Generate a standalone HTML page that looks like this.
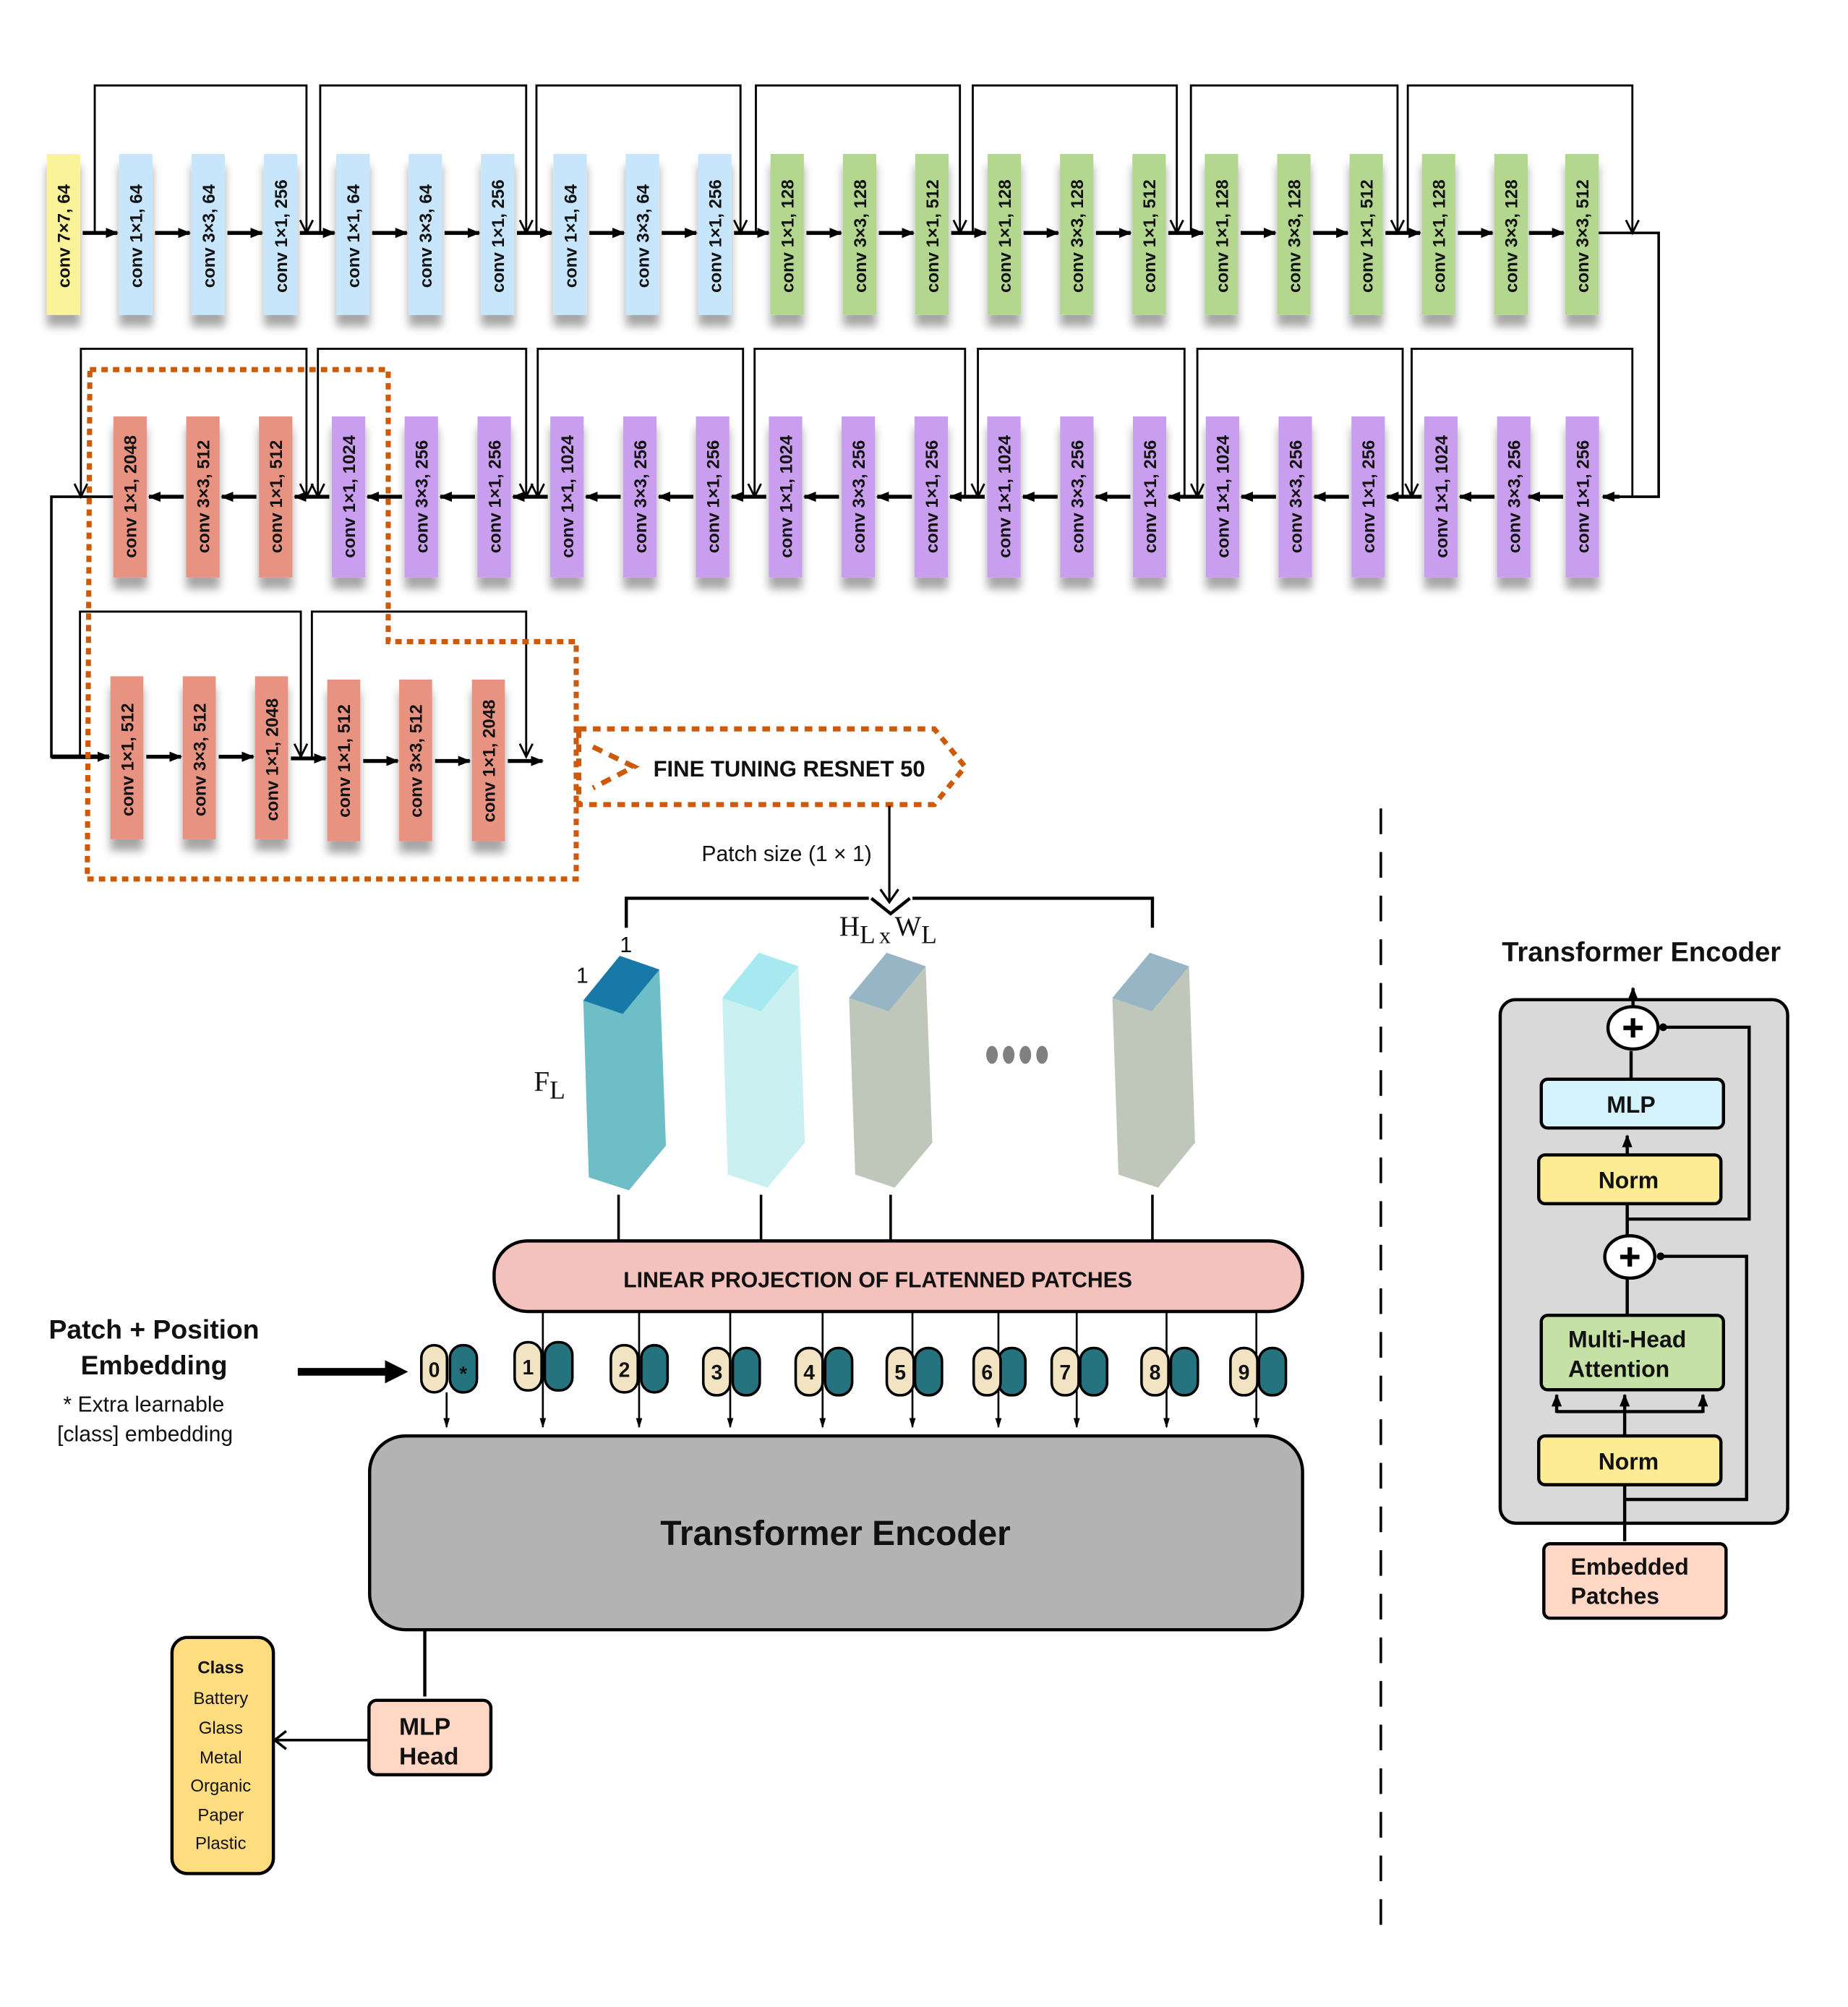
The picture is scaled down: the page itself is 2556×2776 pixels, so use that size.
<!DOCTYPE html>
<html><head><meta charset="utf-8"><style>
html,body{margin:0;padding:0;background:#fff;}
svg{display:block;}
text{font-family:"Liberation Sans",Arial,sans-serif;}
.cl{font-weight:bold;font-size:13.5px;fill:#111;}
.sf{font-family:"Liberation Serif","DejaVu Serif",serif;}
</style></head><body>
<svg xmlns="http://www.w3.org/2000/svg" xmlns:xlink="http://www.w3.org/1999/xlink" width="2556" height="2776" viewBox="0 0 1440 1564">
<defs>
<filter id="sh" x="-50%" y="-20%" width="200%" height="150%"><feDropShadow dx="0" dy="9" stdDeviation="3.5" flood-color="#000" flood-opacity="0.35"/></filter>
<marker id="fa" markerWidth="10" markerHeight="10" refX="9" refY="5" orient="auto" markerUnits="userSpaceOnUse"><path d="M0,1 L10,5 L0,9 z" fill="#000"/></marker>
<marker id="fs" markerWidth="8" markerHeight="14" refX="7" refY="4" orient="auto" markerUnits="userSpaceOnUse"><path d="M0,1.5 L8,4 L0,6.5 z" fill="#000"/></marker>
<g id="ar"><path d="M0 0H27" stroke="#000" stroke-width="3" marker-end="url(#fa)"/></g>
<g id="al"><path d="M0 0H-27" stroke="#000" stroke-width="3" marker-end="url(#fa)"/></g>
</defs>

<!-- ROW 1 -->
<g fill="none" stroke="#000" stroke-width="1.6">
<path d="M73.8 181.5V66.6H238.8V181.5"/><path d="M233.8 171.5L238.8 181.5L243.8 171.5"/>
<path d="M249.5 181.5V66.6H410V181.5"/><path d="M405 171.5L410 181.5L415 171.5"/>
<path d="M418 181.5V66.6H577V181.5"/><path d="M572 171.5L577 181.5L582 171.5"/>
<path d="M589 181.5V66.6H748V181.5"/><path d="M743 171.5L748 181.5L753 171.5"/>
<path d="M758 181.5V66.6H917V181.5"/><path d="M912 171.5L917 181.5L922 171.5"/>
<path d="M928 181.5V66.6H1089V181.5"/><path d="M1084 171.5L1089 181.5L1094 171.5"/>
<path d="M1097 181.5V66.6H1272V181.5"/><path d="M1267 171.5L1272 181.5L1277 171.5"/>
<path d="M1245.6 181.5H1292.5V387.1H1250" stroke-width="2"/>
</g>
<path d="M1262 387.1H1249" stroke="#000" stroke-width="3" marker-end="url(#fa)"/>
<g filter="url(#sh)">
<rect x="36.4" y="120" width="26" height="125.4" fill="#FBF39A"/>
<g fill="#C7E5FB">
<rect x="92.8" y="120" width="26" height="125.4"/><rect x="149.2" y="120" width="26" height="125.4"/><rect x="205.6" y="120" width="26" height="125.4"/>
<rect x="262" y="120" width="26" height="125.4"/><rect x="318.4" y="120" width="26" height="125.4"/><rect x="374.8" y="120" width="26" height="125.4"/>
<rect x="431.2" y="120" width="26" height="125.4"/><rect x="487.6" y="120" width="26" height="125.4"/><rect x="544" y="120" width="26" height="125.4"/>
</g>
<g fill="#B3D78F">
<rect x="600.4" y="120" width="26" height="125.4"/><rect x="656.8" y="120" width="26" height="125.4"/><rect x="713.2" y="120" width="26" height="125.4"/>
<rect x="769.6" y="120" width="26" height="125.4"/><rect x="826" y="120" width="26" height="125.4"/><rect x="882.4" y="120" width="26" height="125.4"/>
<rect x="938.8" y="120" width="26" height="125.4"/><rect x="995.2" y="120" width="26" height="125.4"/><rect x="1051.6" y="120" width="26" height="125.4"/>
<rect x="1108" y="120" width="26" height="125.4"/><rect x="1164.4" y="120" width="26" height="125.4"/><rect x="1219.7" y="120" width="26" height="125.4"/>
</g>
</g>
<g class="cl" text-anchor="middle">
<text transform="translate(54.4,184) rotate(-90)">conv 7×7, 64</text>
<text transform="translate(110.8,184) rotate(-90)">conv 1×1, 64</text>
<text transform="translate(167.2,184) rotate(-90)">conv 3×3, 64</text>
<text transform="translate(223.6,184) rotate(-90)">conv 1×1, 256</text>
<text transform="translate(280,184) rotate(-90)">conv 1×1, 64</text>
<text transform="translate(336.4,184) rotate(-90)">conv 3×3, 64</text>
<text transform="translate(392.8,184) rotate(-90)">conv 1×1, 256</text>
<text transform="translate(449.2,184) rotate(-90)">conv 1×1, 64</text>
<text transform="translate(505.6,184) rotate(-90)">conv 3×3, 64</text>
<text transform="translate(562,184) rotate(-90)">conv 1×1, 256</text>
<text transform="translate(618.4,184) rotate(-90)">conv 1×1, 128</text>
<text transform="translate(674.8,184) rotate(-90)">conv 3×3, 128</text>
<text transform="translate(731.2,184) rotate(-90)">conv 1×1, 512</text>
<text transform="translate(787.6,184) rotate(-90)">conv 1×1, 128</text>
<text transform="translate(844,184) rotate(-90)">conv 3×3, 128</text>
<text transform="translate(900.4,184) rotate(-90)">conv 1×1, 512</text>
<text transform="translate(956.8,184) rotate(-90)">conv 1×1, 128</text>
<text transform="translate(1013.2,184) rotate(-90)">conv 3×3, 128</text>
<text transform="translate(1069.6,184) rotate(-90)">conv 1×1, 512</text>
<text transform="translate(1126,184) rotate(-90)">conv 1×1, 128</text>
<text transform="translate(1182.4,184) rotate(-90)">conv 3×3, 128</text>
<text transform="translate(1237.7,184) rotate(-90)">conv 3×3, 512</text>
</g>
<g>
<use xlink:href="#ar" x="64.4" y="181.5"/><use xlink:href="#ar" x="120.8" y="181.5"/><use xlink:href="#ar" x="177.2" y="181.5"/><use xlink:href="#ar" x="233.6" y="181.5"/>
<use xlink:href="#ar" x="290" y="181.5"/><use xlink:href="#ar" x="346.4" y="181.5"/><use xlink:href="#ar" x="402.8" y="181.5"/><use xlink:href="#ar" x="459.2" y="181.5"/>
<use xlink:href="#ar" x="515.6" y="181.5"/><use xlink:href="#ar" x="572" y="181.5"/><use xlink:href="#ar" x="628.4" y="181.5"/><use xlink:href="#ar" x="684.8" y="181.5"/>
<use xlink:href="#ar" x="741.2" y="181.5"/><use xlink:href="#ar" x="797.6" y="181.5"/><use xlink:href="#ar" x="854" y="181.5"/><use xlink:href="#ar" x="910.4" y="181.5"/>
<use xlink:href="#ar" x="966.8" y="181.5"/><use xlink:href="#ar" x="1023.2" y="181.5"/><use xlink:href="#ar" x="1079.6" y="181.5"/><use xlink:href="#ar" x="1136" y="181.5"/>
<use xlink:href="#ar" x="1191.4" y="181.5"/>
</g>

<!-- ROW 2 -->
<g fill="none" stroke="#000" stroke-width="1.6">
<path d="M63 387.1V271.8H238.8V387.1"/><path d="M58 377L63 387.1L68 377"/><path d="M233.8 377L238.8 387.1L243.8 377"/>
<path d="M247.7 387.1V271.8H410V387.1"/><path d="M242.7 377L247.7 387.1L252.7 377"/><path d="M405 377L410 387.1L415 377"/>
<path d="M419 387.1V271.8H579V387.1"/><path d="M414 377L419 387.1L424 377"/>
<path d="M588 387.1V271.8H752V387.1"/><path d="M583 377L588 387.1L593 377"/>
<path d="M762 387.1V271.8H923V387.1"/><path d="M757 377L762 387.1L767 377"/>
<path d="M933 387.1V271.8H1093V387.1"/><path d="M928 377L933 387.1L938 377"/>
<path d="M1100 387.1V271.8H1272V387.1"/><path d="M1095 377L1100 387.1L1105 377"/>
<path d="M88 387.1H40V589.7H70" stroke-width="2"/>
</g>
<g filter="url(#sh)">
<g fill="#E89282">
<rect x="88.3" y="324.5" width="26" height="125.5"/><rect x="145.1" y="324.5" width="26" height="125.5"/><rect x="201.8" y="324.5" width="26" height="125.5"/>
</g>
<g fill="#C99EEE">
<rect x="258.6" y="324.5" width="26" height="125.5"/><rect x="315.3" y="324.5" width="26" height="125.5"/><rect x="372.1" y="324.5" width="26" height="125.5"/>
<rect x="428.8" y="324.5" width="26" height="125.5"/><rect x="485.6" y="324.5" width="26" height="125.5"/><rect x="542.3" y="324.5" width="26" height="125.5"/>
<rect x="599.1" y="324.5" width="26" height="125.5"/><rect x="655.8" y="324.5" width="26" height="125.5"/><rect x="712.6" y="324.5" width="26" height="125.5"/>
<rect x="769.3" y="324.5" width="26" height="125.5"/><rect x="826.1" y="324.5" width="26" height="125.5"/><rect x="882.8" y="324.5" width="26" height="125.5"/>
<rect x="939.6" y="324.5" width="26" height="125.5"/><rect x="996.3" y="324.5" width="26" height="125.5"/><rect x="1053.1" y="324.5" width="26" height="125.5"/>
<rect x="1109.8" y="324.5" width="26" height="125.5"/><rect x="1166.6" y="324.5" width="26" height="125.5"/><rect x="1220" y="324.5" width="26" height="125.5"/>
</g>
</g>
<g class="cl" text-anchor="middle">
<text transform="translate(106.3,387) rotate(-90)">conv 1×1, 2048</text>
<text transform="translate(163.1,387) rotate(-90)">conv 3×3, 512</text>
<text transform="translate(219.8,387) rotate(-90)">conv 1×1, 512</text>
<text transform="translate(276.6,387) rotate(-90)">conv 1×1, 1024</text>
<text transform="translate(333.3,387) rotate(-90)">conv 3×3, 256</text>
<text transform="translate(390.1,387) rotate(-90)">conv 1×1, 256</text>
<text transform="translate(446.8,387) rotate(-90)">conv 1×1, 1024</text>
<text transform="translate(503.6,387) rotate(-90)">conv 3×3, 256</text>
<text transform="translate(560.3,387) rotate(-90)">conv 1×1, 256</text>
<text transform="translate(617.1,387) rotate(-90)">conv 1×1, 1024</text>
<text transform="translate(673.8,387) rotate(-90)">conv 3×3, 256</text>
<text transform="translate(730.6,387) rotate(-90)">conv 1×1, 256</text>
<text transform="translate(787.3,387) rotate(-90)">conv 1×1, 1024</text>
<text transform="translate(844.1,387) rotate(-90)">conv 3×3, 256</text>
<text transform="translate(900.8,387) rotate(-90)">conv 1×1, 256</text>
<text transform="translate(957.6,387) rotate(-90)">conv 1×1, 1024</text>
<text transform="translate(1014.3,387) rotate(-90)">conv 3×3, 256</text>
<text transform="translate(1071.1,387) rotate(-90)">conv 1×1, 256</text>
<text transform="translate(1127.8,387) rotate(-90)">conv 1×1, 1024</text>
<text transform="translate(1184.6,387) rotate(-90)">conv 3×3, 256</text>
<text transform="translate(1238,387) rotate(-90)">conv 1×1, 256</text>
</g>
<g>
<use xlink:href="#al" x="143.1" y="387.1"/><use xlink:href="#al" x="199.8" y="387.1"/><use xlink:href="#al" x="256.6" y="387.1"/>
<use xlink:href="#al" x="313.3" y="387.1"/><use xlink:href="#al" x="370.1" y="387.1"/><use xlink:href="#al" x="426.8" y="387.1"/>
<use xlink:href="#al" x="483.6" y="387.1"/><use xlink:href="#al" x="540.3" y="387.1"/><use xlink:href="#al" x="597.1" y="387.1"/>
<use xlink:href="#al" x="653.8" y="387.1"/><use xlink:href="#al" x="710.6" y="387.1"/><use xlink:href="#al" x="767.3" y="387.1"/>
<use xlink:href="#al" x="824.1" y="387.1"/><use xlink:href="#al" x="880.8" y="387.1"/><use xlink:href="#al" x="937.6" y="387.1"/>
<use xlink:href="#al" x="994.3" y="387.1"/><use xlink:href="#al" x="1051.1" y="387.1"/><use xlink:href="#al" x="1107.8" y="387.1"/>
<use xlink:href="#al" x="1164.6" y="387.1"/><use xlink:href="#al" x="1218" y="387.1"/>
</g>

<!-- ROW 3 -->
<g fill="none" stroke="#000" stroke-width="1.6">
<path d="M62.3 589.7V476.6H234.4V589.7"/><path d="M229.4 579.6L234.4 589.7L239.4 579.6"/>
<path d="M243 589.7V476.6H410V589.7"/><path d="M405 579.6L410 589.7L415 579.6"/>
</g>
<path d="M40 589.7H85" stroke="#000" stroke-width="3.5" marker-end="url(#fa)"/>
<g filter="url(#sh)" fill="#E89282">
<rect x="86" y="527" width="25.7" height="127"/><rect x="142.4" y="527" width="25.7" height="127"/><rect x="198.7" y="527" width="25.7" height="127"/>
<rect x="255" y="529.6" width="25.7" height="126"/><rect x="311" y="529.6" width="25.7" height="126"/><rect x="367.7" y="529.6" width="25.7" height="126"/>
</g>
<g class="cl" text-anchor="middle">
<text transform="translate(103.8,592) rotate(-90)">conv 1×1, 512</text>
<text transform="translate(160.2,592) rotate(-90)">conv 3×3, 512</text>
<text transform="translate(216.5,592) rotate(-90)">conv 1×1, 2048</text>
<text transform="translate(272.8,593) rotate(-90)">conv 1×1, 512</text>
<text transform="translate(328.8,593) rotate(-90)">conv 3×3, 512</text>
<text transform="translate(385.5,593) rotate(-90)">conv 1×1, 2048</text>
</g>
<g>
<use xlink:href="#ar" x="114" y="589.7"/><use xlink:href="#ar" x="170.4" y="589.7"/><use xlink:href="#ar" x="226.7" y="591"/>
<use xlink:href="#ar" x="283" y="593"/><use xlink:href="#ar" x="339" y="593"/><use xlink:href="#ar" x="395.7" y="593"/>
</g>

<!-- orange dotted region -->
<path d="M70 288H302.5V500H449V685H68Z" fill="none" stroke="#CC5A0A" stroke-width="4" stroke-dasharray="5 4"/>
<path d="M451 568H728L752 597.5L728 627H451L451 568" fill="none" stroke="#CC5A0A" stroke-width="4" stroke-dasharray="6 5"/>
<path d="M462 582L494 597.5L462 614" fill="none" stroke="#CC5A0A" stroke-width="4" stroke-dasharray="8 6"/>
<text x="615" y="605" text-anchor="middle" font-weight="bold" font-size="17.5" fill="#111">FINE TUNING RESNET 50</text>

<!-- patch size -->
<path d="M693 628V703" stroke="#000" stroke-width="1.8" fill="none"/>
<path d="M686 693L693 703L700 693" stroke="#000" stroke-width="1.8" fill="none"/>
<text x="613" y="671" text-anchor="middle" font-size="17" fill="#111">Patch size (1 × 1)</text>
<path d="M488 723V700H677M711 700H898V723" stroke="#000" stroke-width="2.5" fill="none"/>
<path d="M679 700L694 712L709 700" stroke="#000" stroke-width="2.5" fill="none"/>
<text class="sf" x="654" y="729" font-size="22" fill="#111">H<tspan font-size="20" dy="6">L</tspan><tspan font-size="18" dx="3">x</tspan><tspan dy="-6" dx="3">W</tspan><tspan font-size="20" dy="6">L</tspan></text>

<!-- prisms -->
<polygon points="454.5,779.7 513.8,755.5 518.9,892.7 490.1,927.6 458.8,917.5" fill="#6DBEC6"/>
<polygon points="482.9,744.8 513.8,755.5 485.3,790.1 454.5,779.7" fill="#1878A8"/>
<polygon points="562.8,777.6 622.1,753 627.2,890.5 598,925.5 567.1,915.3" fill="#CBF0F2"/>
<polygon points="591.3,742.4 622.1,753 592.8,788 562.8,777.6" fill="#A6E9F1"/>
<polygon points="661.6,777.6 721.3,753 726.5,890.5 697.2,925.5 666.4,915.3" fill="#BEC7BA"/>
<polygon points="690.9,742.4 721.3,753 692.4,788 661.6,777.6" fill="#97B5C4"/>
<polygon points="866.8,777.6 926.5,753 931.2,890.5 902.4,925.5 871.5,915.3" fill="#BEC7BA"/>
<polygon points="896,742.4 926.5,753 897.6,788 866.8,777.6" fill="#97B5C4"/>
<g fill="#808080"><ellipse cx="773" cy="822" rx="4.5" ry="7"/><ellipse cx="786" cy="822" rx="4.5" ry="7"/><ellipse cx="799" cy="822" rx="4.5" ry="7"/><ellipse cx="812" cy="822" rx="4.5" ry="7"/></g>
<text x="483" y="742" font-size="17" fill="#111">1</text>
<text x="449" y="766" font-size="17" fill="#111">1</text>
<text class="sf" x="416" y="850" font-size="22" fill="#111">F<tspan font-size="20" dy="6">L</tspan></text>
<g stroke="#000" stroke-width="2"><path d="M482 931V967M593 931V967M694 931V967M898 931V967"/></g>

<!-- linear projection -->
<rect x="385" y="967" width="630" height="55" rx="26" fill="#F4C2BC" stroke="#000" stroke-width="2.5"/>
<text x="684" y="1003" text-anchor="middle" font-weight="bold" font-size="17" fill="#111">LINEAR PROJECTION OF FLATENNED PATCHES</text>

<!-- tokens -->
<g stroke="#000" stroke-width="1.5" fill="none">
<path d="M348 1085V1112" marker-end="url(#fs)"/>
<path d="M423 1022V1112" marker-end="url(#fs)"/><path d="M498 1022V1112" marker-end="url(#fs)"/>
<path d="M569 1022V1112" marker-end="url(#fs)"/><path d="M641 1022V1112" marker-end="url(#fs)"/>
<path d="M711 1022V1112" marker-end="url(#fs)"/><path d="M778 1022V1112" marker-end="url(#fs)"/>
<path d="M839 1022V1112" marker-end="url(#fs)"/><path d="M909 1022V1112" marker-end="url(#fs)"/>
<path d="M979 1022V1112" marker-end="url(#fs)"/>
</g>
<g stroke="#000" stroke-width="2">
<rect x="350.6" y="1048.3" width="21" height="36.7" rx="10" fill="#267380"/><rect x="328.3" y="1048.3" width="20" height="36.7" rx="10" fill="#F2E4C2"/>
<rect x="424.5" y="1046" width="21.5" height="37.5" rx="10" fill="#267380"/><rect x="401" y="1046" width="21" height="37.5" rx="10" fill="#F2E4C2"/>
<rect x="499.7" y="1048.3" width="20.5" height="36.7" rx="10" fill="#267380"/><rect x="476" y="1048.3" width="21" height="36.7" rx="10" fill="#F2E4C2"/>
<rect x="571" y="1050.5" width="21" height="36.8" rx="10" fill="#267380"/><rect x="548" y="1050.5" width="21" height="36.8" rx="10" fill="#F2E4C2"/>
<rect x="643" y="1050.5" width="21" height="36.8" rx="10" fill="#267380"/><rect x="620" y="1050.5" width="21" height="36.8" rx="10" fill="#F2E4C2"/>
<rect x="713" y="1050.5" width="21" height="36.8" rx="10" fill="#267380"/><rect x="691" y="1050.5" width="21" height="36.8" rx="10" fill="#F2E4C2"/>
<rect x="778" y="1050.5" width="21" height="36.8" rx="10" fill="#267380"/><rect x="758.7" y="1050.5" width="21" height="36.8" rx="10" fill="#F2E4C2"/>
<rect x="841.7" y="1050.5" width="21" height="36.8" rx="10" fill="#267380"/><rect x="819.5" y="1050.5" width="21" height="36.8" rx="10" fill="#F2E4C2"/>
<rect x="912.4" y="1050.5" width="21" height="36.8" rx="10" fill="#267380"/><rect x="889.5" y="1050.5" width="21" height="36.8" rx="10" fill="#F2E4C2"/>
<rect x="981" y="1050.5" width="21" height="36.8" rx="10" fill="#267380"/><rect x="958.8" y="1050.5" width="21" height="36.8" rx="10" fill="#F2E4C2"/>
</g>
<g font-weight="bold" font-size="16" fill="#111" text-anchor="middle">
<text x="338.3" y="1073">0</text><text x="361" y="1076">*</text><text x="411.5" y="1071">1</text><text x="486.5" y="1073">2</text>
<text x="558.5" y="1075">3</text><text x="630.5" y="1075">4</text><text x="701.5" y="1075">5</text><text x="769.2" y="1075">6</text>
<text x="830" y="1075">7</text><text x="900" y="1075">8</text><text x="969.3" y="1075">9</text>
</g>
<path d="M232 1069H305" stroke="#000" stroke-width="6" fill="none"/>
<path d="M300 1060L318 1069L300 1078Z" fill="#000"/>
<text x="120" y="1043" text-anchor="middle" font-weight="bold" font-size="21" fill="#111">Patch + Position</text>
<text x="120" y="1071" text-anchor="middle" font-weight="bold" font-size="21" fill="#111">Embedding</text>
<text x="112" y="1100" text-anchor="middle" font-size="17" fill="#111">*  Extra learnable</text>
<text x="113" y="1123" text-anchor="middle" font-size="17" fill="#111">[class] embedding</text>

<!-- transformer encoder big -->
<rect x="288" y="1119" width="727" height="151" rx="28" fill="#B3B3B3" stroke="#000" stroke-width="2.5"/>
<text x="651" y="1204" text-anchor="middle" font-weight="bold" font-size="27" fill="#111">Transformer Encoder</text>
<path d="M331 1271V1322" stroke="#000" stroke-width="2.5"/>
<rect x="287.5" y="1325" width="95" height="58" rx="6" fill="#FFD7C4" stroke="#000" stroke-width="2.5"/>
<text x="311" y="1352" font-weight="bold" font-size="19" fill="#111">MLP</text>
<text x="311" y="1375" font-weight="bold" font-size="19" fill="#111">Head</text>
<path d="M287 1356H215" stroke="#000" stroke-width="2" fill="none"/>
<path d="M223 1349L214 1356L223 1363" stroke="#000" stroke-width="2" fill="none"/>
<rect x="134" y="1276" width="79" height="184" rx="12" fill="#FEDC80" stroke="#000" stroke-width="2.5"/>
<g text-anchor="middle" font-size="13.5" fill="#111">
<text x="172" y="1304" font-weight="bold">Class</text>
<text x="172" y="1328">Battery</text><text x="172" y="1351">Glass</text><text x="172" y="1374">Metal</text>
<text x="172" y="1396">Organic</text><text x="172" y="1419">Paper</text><text x="172" y="1441">Plastic</text>
</g>

<!-- dashed divider -->
<path d="M1076 630V1512" stroke="#000" stroke-width="2" stroke-dasharray="20 14"/>

<!-- right encoder -->
<text x="1279" y="749" text-anchor="middle" font-weight="bold" font-size="21.5" fill="#111">Transformer Encoder</text>
<rect x="1169" y="779" width="224" height="408" rx="12" fill="#D9D9D9" stroke="#000" stroke-width="2.5"/>
<path d="M1272.5 784V770" stroke="#000" stroke-width="2.5" marker-end="url(#fa)"/>
<g stroke="#000" stroke-width="2.5" fill="none">
<path d="M1271 819V841"/>
<path d="M1268 962V937"/>
<path d="M1268 950H1363V800.5H1297"/>
<path d="M1268 996V1025"/>
<path d="M1266 1201V1157"/>
<path d="M1266 1168.5H1361V979H1295"/>
<path d="M1213 1100H1327"/>
</g>
<g stroke="#000" stroke-width="2.5" fill="none">
<path d="M1268 899V885" marker-end="url(#fa)"/>
<path d="M1266 1119V1087" marker-end="url(#fa)"/>
<path d="M1213 1101V1087" marker-end="url(#fa)"/>
<path d="M1327 1101V1087" marker-end="url(#fa)"/>
</g>
<circle cx="1296" cy="800.5" r="3" fill="#000"/><circle cx="1294" cy="979" r="3" fill="#000"/>
<ellipse cx="1272.5" cy="801" rx="19.5" ry="16.5" fill="#fff" stroke="#000" stroke-width="2.5"/>
<ellipse cx="1270" cy="979.5" rx="19.5" ry="16.5" fill="#fff" stroke="#000" stroke-width="2.5"/>
<path d="M1265 801H1280M1272.5 793.5V808.5M1262.5 979.5H1277.5M1270 972V987" stroke="#000" stroke-width="3.5"/>
<rect x="1201" y="841" width="142" height="38" rx="5" fill="#D4F3FD" stroke="#000" stroke-width="2.5"/>
<text x="1271" y="867" text-anchor="middle" font-weight="bold" font-size="18" fill="#111">MLP</text>
<rect x="1199" y="900" width="142" height="38" rx="5" fill="#FDEC93" stroke="#000" stroke-width="2.5"/>
<text x="1269" y="926" text-anchor="middle" font-weight="bold" font-size="18" fill="#111">Norm</text>
<rect x="1201" y="1025" width="142" height="58" rx="5" fill="#C5E1A5" stroke="#000" stroke-width="2.5"/>
<text x="1222" y="1050" font-weight="bold" font-size="18" fill="#111">Multi-Head</text>
<text x="1222" y="1073" font-weight="bold" font-size="18" fill="#111">Attention</text>
<rect x="1199" y="1119" width="142" height="38" rx="5" fill="#FDEC93" stroke="#000" stroke-width="2.5"/>
<text x="1269" y="1145" text-anchor="middle" font-weight="bold" font-size="18" fill="#111">Norm</text>
<rect x="1203" y="1203" width="142" height="58" rx="5" fill="#FFD7C4" stroke="#000" stroke-width="2.5"/>
<text x="1224" y="1227" font-weight="bold" font-size="18" fill="#111">Embedded</text>
<text x="1224" y="1250" font-weight="bold" font-size="18" fill="#111">Patches</text>
</svg>
</body></html>
